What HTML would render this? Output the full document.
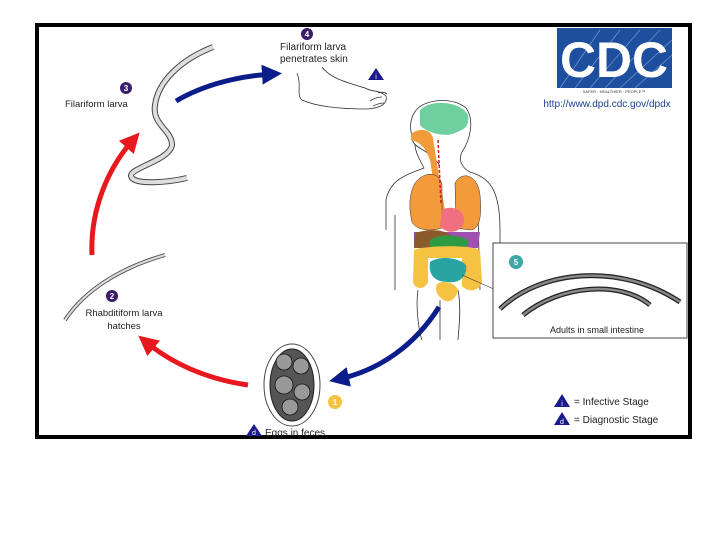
<!DOCTYPE html>
<html><head><meta charset="utf-8"><style>
html,body{margin:0;padding:0;background:#fff;}
svg{display:block;}
text{font-family:"Liberation Sans",sans-serif;}
</style></head><body>
<svg width="720" height="540" viewBox="0 0 720 540" xmlns="http://www.w3.org/2000/svg">
<defs>
<marker id="ar" markerWidth="4" markerHeight="4" refX="2" refY="2" orient="auto" markerUnits="strokeWidth"><path d="M0,0 L4,2 L0,4 z" fill="#e8191e"/></marker>
<marker id="ab" markerWidth="4" markerHeight="4" refX="2" refY="2" orient="auto" markerUnits="strokeWidth"><path d="M0,0 L4,2 L0,4 z" fill="#0b1d8a"/></marker>
</defs>
<rect x="0" y="0" width="720" height="540" fill="#fff"/>
<rect x="37" y="25" width="653" height="412" fill="#fff" stroke="#000" stroke-width="4"/>

<!-- CDC logo -->
<rect x="557" y="28" width="115" height="60" fill="#1d4f9e"/>
<g stroke="#9fb6e0" stroke-width="0.7" opacity="0.7">
<line x1="560" y1="88" x2="600" y2="30"/><line x1="575" y1="88" x2="620" y2="30"/><line x1="590" y1="88" x2="640" y2="30"/><line x1="605" y1="88" x2="660" y2="30"/><line x1="620" y1="88" x2="672" y2="40"/><line x1="635" y1="88" x2="672" y2="55"/>
</g>
<text x="614" y="77" font-family="Liberation Serif,serif" font-size="50" fill="#fff" text-anchor="middle" font-weight="bold" textLength="108" lengthAdjust="spacingAndGlyphs">CDC</text>
<text x="614" y="93" font-size="4" fill="#333" text-anchor="middle">SAFER · HEALTHIER · PEOPLE™</text>
<text x="607" y="107" font-size="10" fill="#1d3f8f" text-anchor="middle">http://www.dpd.cdc.gov/dpdx</text>

<!-- Badge 4 and text -->
<circle cx="307" cy="34" r="6" fill="#3b1b6b"/><text x="307" y="37" font-size="8" fill="#fff" text-anchor="middle" font-weight="bold">4</text>
<text x="280" y="50" font-size="10" fill="#222">Filariform larva</text>
<text x="280" y="62" font-size="10" fill="#222">penetrates skin</text>
<path d="M376,68 L384,80 L368,80 z" fill="#1a1a8c"/><text x="376" y="79" font-size="7" fill="#fff" text-anchor="middle">i</text>
<!-- foot -->
<path d="M297,73 C302,85 296,95 302,100 C315,106 335,109 368,109 C380,108 388,104 386,96 C380,90 372,92 365,88 C345,82 330,78 322,67" fill="none" stroke="#333" stroke-width="0.8"/>
<path d="M370,101 q6,-4 12,-4 M373,106 q6,-3 11,-3 M378,93 q5,-2 9,1" fill="none" stroke="#333" stroke-width="0.8"/>

<!-- Badge 3 -->
<circle cx="126" cy="88" r="6" fill="#3b1b6b"/><text x="126" y="91" font-size="8" fill="#fff" text-anchor="middle" font-weight="bold">3</text>
<text x="65" y="107" font-size="9.5" fill="#222">Filariform larva</text>
<!-- worm 3 -->
<path d="M213,47 C180,60 158,82 155,105 C152,125 172,130 172,145 C170,160 130,168 131,176 C133,186 170,182 187,178" fill="none" stroke="#444" stroke-width="6"/>
<path d="M213,47 C180,60 158,82 155,105 C152,125 172,130 172,145 C170,160 130,168 131,176 C133,186 170,182 187,178" fill="none" stroke="#ddd" stroke-width="4"/>

<!-- arrows -->
<path d="M176,101 C205,84 240,76 272,74" fill="none" stroke="#0b1d8a" stroke-width="5" marker-end="url(#ab)"/>
<path d="M92,255 C90,210 108,168 133,140" fill="none" stroke="#e8191e" stroke-width="5" marker-end="url(#ar)"/>
<path d="M248,385 C200,378 168,360 146,342" fill="none" stroke="#e8191e" stroke-width="5" marker-end="url(#ar)"/>
<path d="M439,307 C415,345 380,370 339,379" fill="none" stroke="#0b1d8a" stroke-width="5" marker-end="url(#ab)"/>

<!-- worm 2 -->
<path d="M65,320 C85,290 120,268 165,255" fill="none" stroke="#555" stroke-width="4"/>
<path d="M65,320 C85,290 120,268 165,255" fill="none" stroke="#ddd" stroke-width="2"/>
<circle cx="112" cy="296" r="6" fill="#3b1b6b"/><text x="112" y="299" font-size="8" fill="#fff" text-anchor="middle" font-weight="bold">2</text>
<text x="124" y="316" font-size="9.5" fill="#222" text-anchor="middle">Rhabditiform larva</text>
<text x="124" y="329" font-size="9.5" fill="#222" text-anchor="middle">hatches</text>

<!-- egg -->
<ellipse cx="292" cy="385" rx="28" ry="41" fill="#fff" stroke="#444" stroke-width="1"/>
<ellipse cx="292" cy="385" rx="22" ry="36" fill="#555" stroke="#222" stroke-width="1"/>
<g fill="#999" stroke="#111" stroke-width="0.8"><circle cx="284" cy="362" r="8"/><circle cx="301" cy="366" r="8"/><circle cx="284" cy="385" r="9"/><circle cx="302" cy="392" r="8"/><circle cx="290" cy="407" r="8"/></g>
<circle cx="335" cy="402" r="7" fill="#f5c242"/><text x="335" y="405" font-size="8" fill="#fff" text-anchor="middle" font-weight="bold">1</text>
<path d="M254,424 L262,436 L246,436 z" fill="#1a1a8c"/><text x="254" y="435" font-size="7" fill="#fff" text-anchor="middle">d</text>
<text x="265" y="436" font-size="10" fill="#222">Eggs in feces</text>

<!-- human body -->
<g fill="none" stroke="#333" stroke-width="0.8">
<path d="M440,166 C430,150 418,150 413,142 C410,130 408,118 418,108 C430,98 455,98 466,108 C475,120 470,140 462,152 C458,160 462,168 470,172 C490,178 500,190 500,230 L500,260 M415,144 C415,152 420,160 424,168 C405,175 390,180 386,200 L386,230"/>
<path d="M395,215 L395,290 M478,215 L480,290 M418,290 C415,310 420,335 422,340 M458,290 C462,310 458,335 458,340 M440,300 L440,340"/>
</g>
<path d="M420,110 C432,98 462,102 468,115 C470,128 462,130 455,133 C445,138 425,132 420,125 z" fill="#6fcf9f"/>
<path d="M411,134 C418,128 430,128 433,138 L438,170 L445,210 L438,210 L430,160 C425,145 418,142 411,140 z" fill="#f39a3a"/>
<path d="M415,183 C425,170 440,172 442,185 L442,228 C430,232 416,230 412,222 C408,205 410,192 415,183 z" fill="#f39a3a" stroke="#333" stroke-width="0.5"/>
<path d="M455,183 C462,170 478,175 480,195 C482,215 480,230 470,230 L456,228 z" fill="#f39a3a" stroke="#333" stroke-width="0.5"/>
<path d="M442,210 C450,205 465,208 464,222 C462,232 448,236 440,226 z" fill="#f07080"/>
<path d="M438,140 L441,205" stroke="#d02020" stroke-width="1.5" stroke-dasharray="3,2"/>
<path d="M414,232 L480,232 L478,248 L414,248 z" fill="#a050b0"/>
<path d="M415,233 C430,228 445,230 450,235 L448,248 L414,248 z" fill="#8b5a2b"/>
<path d="M430,240 C440,233 460,235 468,240 C470,250 455,254 440,252 C432,252 428,246 430,240 z" fill="#2e9a44"/>
<path d="M414,250 C420,246 470,244 480,250 L482,282 C480,290 470,294 462,286 L462,258 L428,258 L428,282 C425,290 415,290 413,282 z" fill="#f5c242"/>
<path d="M430,262 C440,255 460,258 466,265 C468,275 460,284 448,282 C436,282 428,276 430,262 z" fill="#2aa3a3"/>
<path d="M437,284 C442,280 455,282 458,290 C456,300 448,305 441,298 C436,294 435,289 437,284 z" fill="#f5c242"/>
<line x1="462" y1="275" x2="496" y2="290" stroke="#333" stroke-width="0.6"/>

<!-- box 5 -->
<rect x="493" y="243" width="194" height="95" fill="#fff" stroke="#444" stroke-width="1"/>
<circle cx="516" cy="262" r="7" fill="#3fa7a7"/><text x="516" y="265" font-size="8" fill="#fff" text-anchor="middle" font-weight="bold">5</text>
<path d="M500,309 C540,270 620,262 680,302" fill="none" stroke="#222" stroke-width="5"/>
<path d="M500,309 C540,270 620,262 680,302" fill="none" stroke="#888" stroke-width="2.5"/>
<path d="M523,315 C560,285 620,280 650,305" fill="none" stroke="#222" stroke-width="5"/>
<path d="M523,315 C560,285 620,280 650,305" fill="none" stroke="#888" stroke-width="2.5"/>
<text x="597" y="333" font-size="9" fill="#222" text-anchor="middle">Adults in small intestine</text>

<!-- legend -->
<path d="M562,394 L570,407 L554,407 z" fill="#1a1a8c"/><text x="562" y="406" font-size="7" fill="#fff" text-anchor="middle">i</text>
<text x="574" y="405" font-size="10" fill="#222">= Infective Stage</text>
<path d="M562,412 L570,425 L554,425 z" fill="#1a1a8c"/><text x="562" y="424" font-size="7" fill="#fff" text-anchor="middle">d</text>
<text x="574" y="423" font-size="10" fill="#222">= Diagnostic Stage</text>
</svg>
</body></html>
